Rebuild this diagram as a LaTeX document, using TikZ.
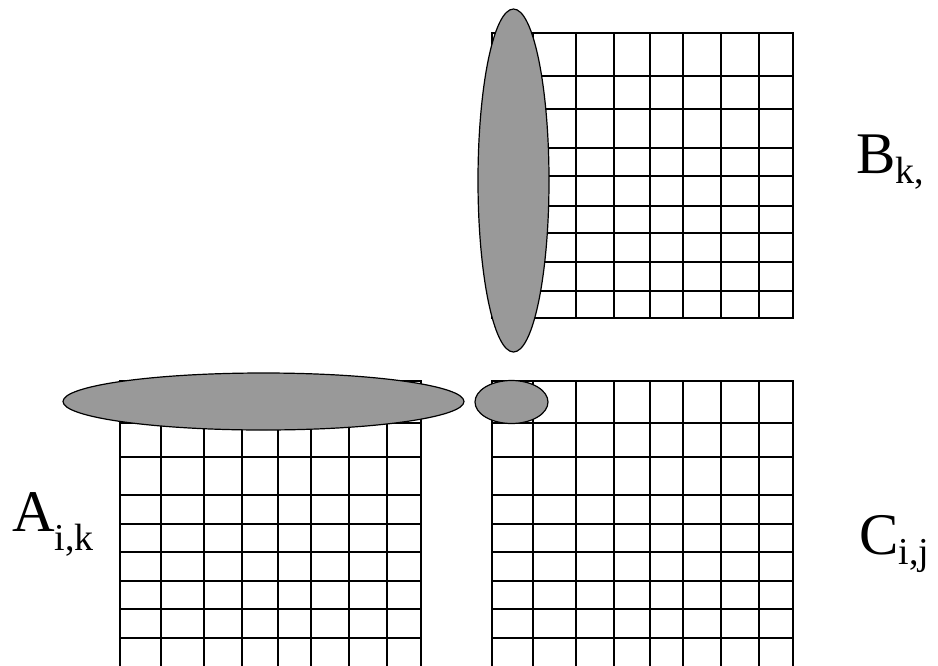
\documentclass[tikz,border=0pt]{standalone}
\usepackage{fontspec}
\setmainfont{Liberation Serif}
\usetikzlibrary{shapes.geometric}
\definecolor{ink}{HTML}{000000}
\definecolor{blobfill}{HTML}{999999}
\newcommand{\mname}[3]{#1\raisebox{-#3pt}{\fontsize{38}{40}\selectfont #2}}
\newcommand{\gridat}[4]{%
  \foreach \c in {0,41,84,122,158,191,229,267,301}
    \draw[gl] (#1+\c,#2) -- (#1+\c,#3);
  \foreach \r in {#4}
    \draw[gl] (#1,#2+\r) -- (#1+301,#2+\r);
}
\tikzset{
  gl/.style={draw=ink, line width=1.4pt, line cap=rect},
  sel/.style={ellipse, draw=ink, line width=1.2pt, fill=blobfill, inner sep=0pt},
  mlbl/.style={font=\fontsize{59}{62}\selectfont, inner sep=0pt, anchor=base west},
}

\begin{document}
\begin{tikzpicture}[x=1pt, y=-1pt]
\useasboundingbox (0,0) rectangle (938,665);

\gridat{492}{33}{318}{0,43,76,115,143,173,200,229,258,285}
\gridat{120}{381}{670}{0,42,76,114,143,171,200,228,257}
\gridat{492}{381}{670}{0,42,76,114,143,171,200,228,257}

\node[sel, minimum width=71pt, minimum height=343pt] (colB) at (513.5,180.5) {};
\node[sel, minimum width=401pt, minimum height=57pt] (rowA) at (263.5,401.5) {};
\node[sel, minimum width=73pt, minimum height=43pt] (cellC) at (511.5,402) {};

\node[mlbl] (lB) at (856,173) {\mname{B}{k,}{10}};
\node[mlbl] (lA) at (12,531) {\mname{A}{i,k}{19}};
\node[mlbl] (lC) at (859,554) {\mname{C}{i,j}{10}};
\end{tikzpicture}
\end{document}
